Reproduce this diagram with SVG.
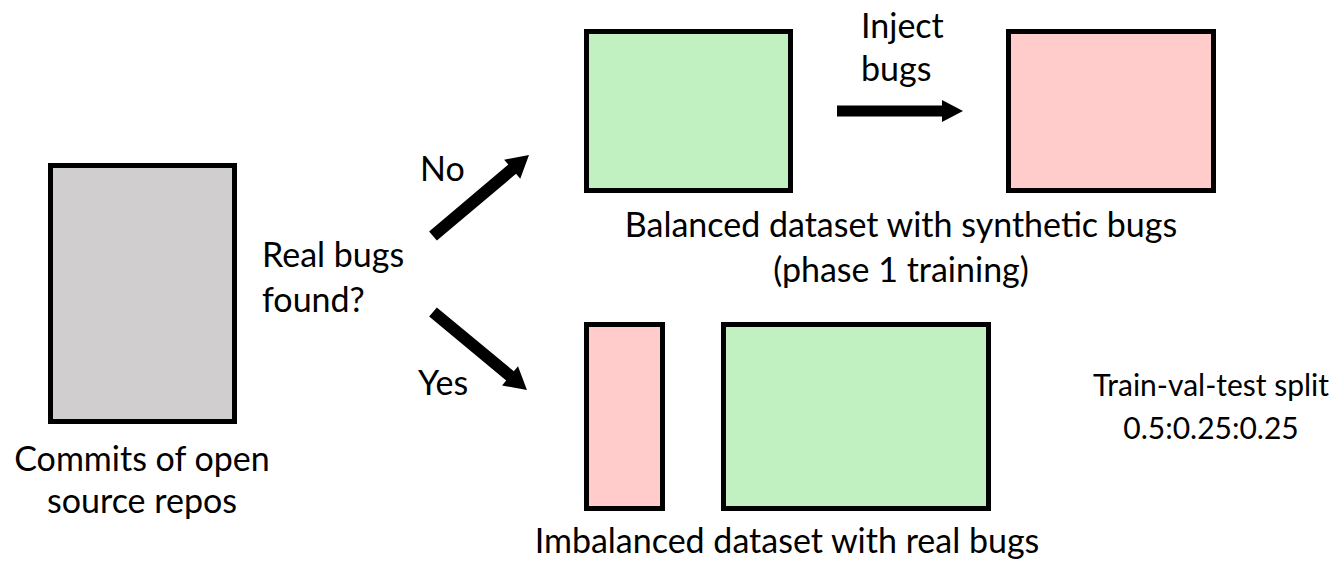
<svg xmlns="http://www.w3.org/2000/svg" width="1336" height="565" viewBox="0 0 1336 565">
  <style>
    .box { stroke: #000; stroke-width: 5; }
    .gray { fill: #D0CECE; }
    .green { fill: #C1F1C1; }
    .pink { fill: #FFCBCB; }
    text { font-family: Lato, "Open Sans", "Liberation Sans", sans-serif; font-size: 34px; fill: #000; }
    .c { text-anchor: middle; }
    .s { font-size: 30px; }
    .arrow { fill: #000; }
  </style>
  <rect width="1336" height="565" fill="#fff"/>
  <g id="commits">
    <rect class="box gray" x="50.5" y="165.5" width="184" height="256"/>
    <text class="c" x="142" y="471">Commits of open</text>
    <text class="c" x="142" y="513">source repos</text>
  </g>
  <g id="question">
    <text x="262" y="267">Real bugs</text>
    <text x="262" y="312">found?</text>
  </g>
  <g id="balanced">
    <rect class="box green" x="586.5" y="31.5" width="204" height="159"/>
    <rect class="box pink" x="1008.5" y="31.5" width="205" height="159"/>
    <text class="c" x="901" y="237">Balanced dataset with synthetic bugs</text>
    <text class="c" x="901" y="282">(phase 1 training)</text>
  </g>
  <g id="imbalanced">
    <rect class="box pink" x="586.5" y="324.5" width="76" height="184"/>
    <rect class="box green" x="723.5" y="324.5" width="265" height="184"/>
    <text class="c" x="787" y="553">Imbalanced dataset with real bugs</text>
  </g>
  <g id="split">
    <text class="c s" x="1211" y="396">Train-val-test split</text>
    <text class="c s" x="1211" y="439">0.5:0.25:0.25</text>
  </g>
  <g id="connectors">
    <path class="arrow" transform="translate(433,236) rotate(-40.15)" d="M0,-6 L103.6,-6 L103.6,-12.5 L125.6,0 L103.6,12.5 L103.6,6 L0,6 Z"/>
    <path class="arrow" transform="translate(433,312) rotate(39.69)" d="M0,-6 L100.1,-6 L100.1,-12.5 L122.1,0 L100.1,12.5 L100.1,6 L0,6 Z"/>
    <path class="arrow" d="M837,105.5 L942,105.5 L942,100 L963,111 L942,122 L942,116.5 L837,116.5 Z"/>
    <text x="420" y="181">No</text>
    <text x="418" y="395">Yes</text>
    <text x="861" y="38">Inject</text>
    <text x="861" y="81">bugs</text>
  </g>
</svg>
